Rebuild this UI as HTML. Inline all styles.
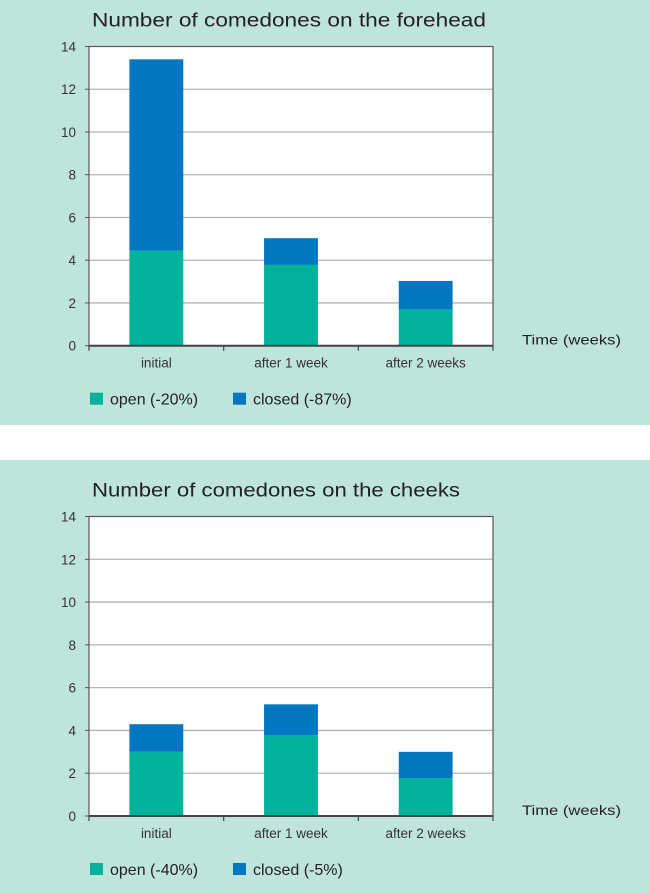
<!DOCTYPE html>
<html><head><meta charset="utf-8"><style>
html,body{margin:0;padding:0;background:#fff;}
svg{display:block;font-family:"Liberation Sans",sans-serif;}
</style></head><body>
<svg id="page" width="650" height="893" viewBox="0 0 650 893">
<rect x="0" y="0" width="650" height="425" fill="#bfe4dc"/>
<rect x="0" y="460" width="650" height="433" fill="#bfe4dc"/>
<g id="c1"></g>
<g id="c2"></g>
</svg>
<script>
const categories = ["initial", "after 1 week", "after 2 weeks"];
const yTicks = [0, 2, 4, 6, 8, 10, 12, 14];
const foreheadOpen = [4.45, 3.78, 1.7];
const foreheadClosed = [8.95, 1.25, 1.33];
const cheeksOpen = [3.0, 3.77, 1.76];
const cheeksClosed = [1.29, 1.45, 1.24];
const foreheadLegend = ["open (-20%)", "closed (-87%)"];
const cheeksLegend = ["open (-40%)", "closed (-5%)"];

const NS = "http://www.w3.org/2000/svg";
function mk(parent, tag, attrs, text) {
  const el = document.createElementNS(NS, tag);
  for (const k in attrs) el.setAttribute(k, attrs[k]);
  if (text !== undefined) el.textContent = text;
  parent.appendChild(el);
  return el;
}

function drawChart(g, prefix, title, top, bottom, openV, closedV, legend, titleLen) {
  const left = 89, right = 493, yMax = 14;
  const y = v => bottom - (v / yMax) * (bottom - top);
  const band = (right - left) / categories.length;
  const xc = i => left + band * (i + 0.5);
  const bw = band * 0.4;

  let t = mk(g, "text", {x: 92, y: top - 20, "font-size": 19, fill: "#222", textLength: titleLen, lengthAdjust: "spacingAndGlyphs"}, title);
  
  

  let plot = mk(g, "rect", {x: left, y: top, width: right - left, height: bottom - top, fill: "#fff"});
  
  

  yTicks.forEach(v => {
    if (v > 0 && v < yMax) {
      const gl = mk(g, "line", {x1: left, x2: right, y1: y(v), y2: y(v), stroke: "#b4b4b8", "stroke-width": 1.3});
      
      
    }
    const tk = mk(g, "line", {x1: left - 4, x2: left, y1: y(v), y2: y(v), stroke: "#555", "stroke-width": 1});
    
    
    const lb = mk(g, "text", {x: 76, y: y(v) + 5, "font-size": 13.5, fill: "#333", "text-anchor": "end"}, String(v));
    
    
  });

  categories.forEach((c, i) => {
    const x0 = xc(i) - bw / 2;
    const b1 = mk(g, "rect", {x: x0, y: y(openV[i]), width: bw, height: y(0) - y(openV[i]), fill: "#00b19b"});
    
    
    const tot = openV[i] + closedV[i];
    const b2 = mk(g, "rect", {x: x0, y: y(tot), width: bw, height: y(openV[i]) - y(tot), fill: "#0077c0"});
    
    
    const cl = mk(g, "text", {x: xc(i), y: bottom + 22, "font-size": 13.5, fill: "#333", "text-anchor": "middle"}, c);
    
    
  });

  const frame = mk(g, "rect", {x: left, y: top, width: right - left, height: bottom - top, fill: "none", stroke: "#555", "stroke-width": 1.2});
  
  
  const xa = mk(g, "line", {x1: left, x2: right, y1: bottom, y2: bottom, stroke: "#444", "stroke-width": 2});
  
  
  for (let i = 0; i <= categories.length; i++) {
    const xt = mk(g, "line", {x1: left + band * i, x2: left + band * i, y1: bottom, y2: bottom + 5, stroke: "#444", "stroke-width": 1.2});
    
    
  }
  const at = mk(g, "text", {x: 522, y: bottom - 1, "font-size": 13.5, fill: "#222", textLength: 99, lengthAdjust: "spacingAndGlyphs"}, "Time (weeks)");
  
  

  const ly = bottom + 47;
  const colors = ["#00b19b", "#0077c0"];
  const lx = [90, 233];
  legend.forEach((s, i) => {
    const sq = mk(g, "rect", {x: lx[i], y: ly, width: 13, height: 12, fill: colors[i]});
    
    
    const lt = mk(g, "text", {x: lx[i] + 20, y: ly + 12, "font-size": 16, fill: "#222"}, s);
    
    
  });
}

drawChart(document.getElementById("c1"), "forehead", "Number of comedones on the forehead", 46.5, 345.7, foreheadOpen, foreheadClosed, foreheadLegend, 394);
drawChart(document.getElementById("c2"), "cheeks", "Number of comedones on the cheeks", 516.5, 816, cheeksOpen, cheeksClosed, cheeksLegend, 368);
</script>
</body></html>
